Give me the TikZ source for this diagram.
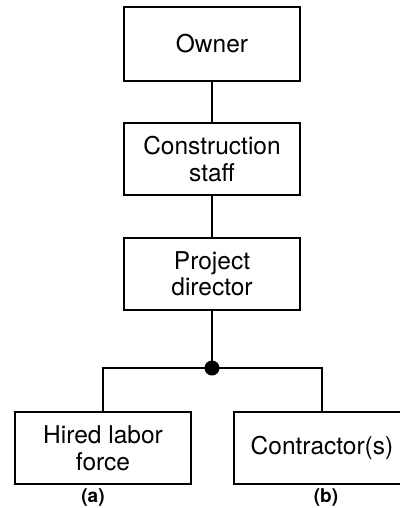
\documentclass[tikz,border=0pt]{standalone}
\usepackage{fontspec}
\setmainfont{TeX Gyre Heros}
\begin{document}
\begin{tikzpicture}[x=1pt,y=-1pt,
  orgbox/.style={draw, line width=2pt, rectangle, minimum width=176pt,
    minimum height=72pt, align=center, inner sep=0pt,
    font=\fontsize{24.5}{26.5}\selectfont},
  link/.style={line width=2pt},
  caption/.style={font=\fontsize{19}{22}\selectfont\bfseries, inner sep=0pt}]
\useasboundingbox (0,0) rectangle (399,508);
\node[orgbox, minimum height=74pt] (owner) at (212,44) {Owner};
\node[orgbox] (staff) at (212,159) {Construction\\staff};
\node[orgbox] (director) at (212,274) {Project\\director};
\node[circle, fill, inner sep=0pt, minimum size=15pt] (split) at (212,368) {};
\node[orgbox] (hired) at (103,448) {Hired labor\\force};
\node[orgbox] (contr) at (322,448) {Contractor(s)};
\node[caption] (capa) at (93,497) {(a)};
\node[caption] (capb) at (326,497) {(b)};
\draw[link] (owner) -- (staff);
\draw[link] (staff) -- (director);
\draw[link] (director) -- (split.center);
\draw[link] (split.center) -| (hired.north);
\draw[link] (split.center) -| (contr.north);
\end{tikzpicture}
\end{document}
